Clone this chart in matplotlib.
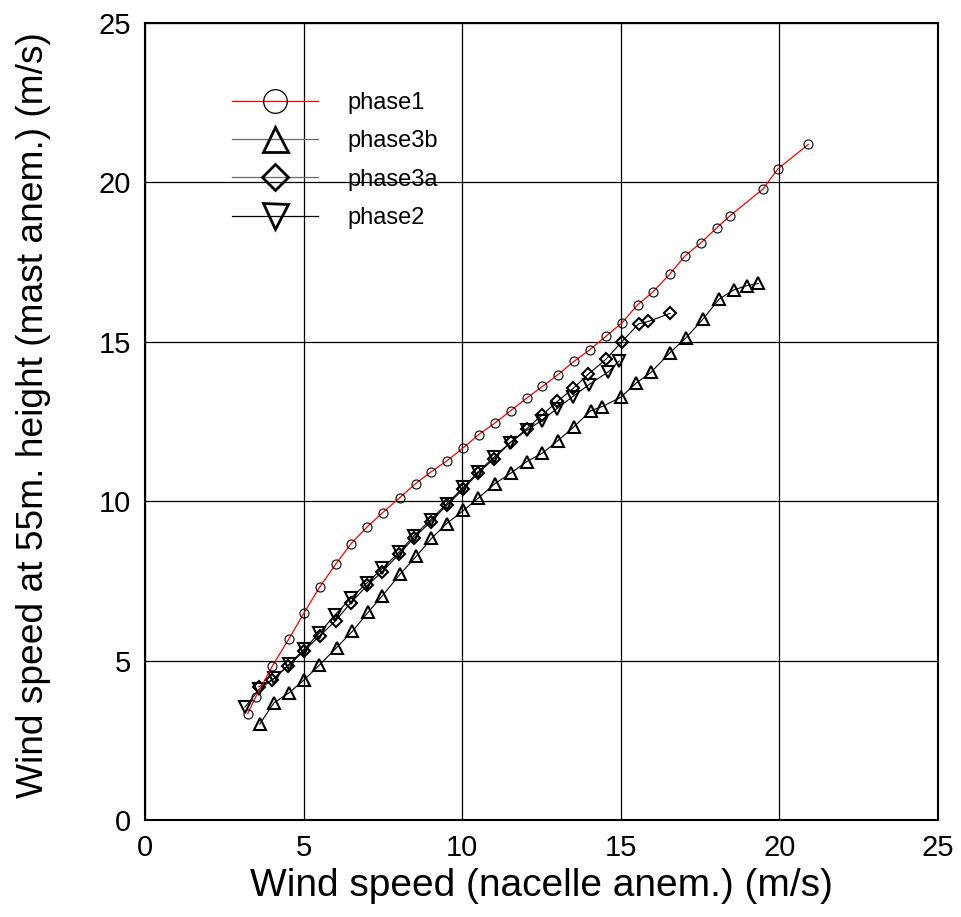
import matplotlib
matplotlib.use("Agg")
import matplotlib.pyplot as plt
from matplotlib.lines import Line2D

plt.rcParams['font.family'] = ['Liberation Sans', 'DejaVu Sans']

# phase1 (circles, red line)
p1_x = [3.24, 3.49, 4.01, 4.54, 5.01, 5.51, 6.01, 6.5, 7.01, 7.49, 8.03, 8.53, 9.03, 9.51,
        10.04, 10.52, 11.03, 11.53, 12.03, 12.53, 13.02, 13.53, 14.02, 14.53, 15.03, 15.53,
        16.02, 16.55, 17.03, 17.53, 18.02, 18.44, 19.47, 19.96, 20.91]
p1_y = [3.34, 3.86, 4.82, 5.69, 6.49, 7.31, 8.02, 8.67, 9.2, 9.64, 10.11, 10.55, 10.93, 11.26,
        11.68, 12.09, 12.45, 12.84, 13.23, 13.6, 13.97, 14.39, 14.75, 15.17, 15.59, 16.16,
        16.57, 17.13, 17.7, 18.11, 18.57, 18.95, 19.78, 20.43, 21.19]

# phase3b (up triangles)
p3b_x = [3.62, 4.06, 4.54, 5.01, 5.5, 6.04, 6.54, 7.03, 7.48, 8.04, 8.55, 9.03, 9.51, 10.04,
         10.51, 11.03, 11.53, 12.03, 12.53, 13.02, 13.53, 14.05, 14.42, 15.0, 15.48, 15.95,
         16.55, 17.05, 17.58, 18.1, 18.57, 18.97, 19.34]
p3b_y = [3.01, 3.67, 3.99, 4.39, 4.86, 5.41, 5.92, 6.51, 7.03, 7.71, 8.27, 8.83, 9.3, 9.71,
         10.1, 10.55, 10.88, 11.24, 11.51, 11.9, 12.34, 12.84, 12.97, 13.26, 13.7, 14.04,
         14.66, 15.12, 15.7, 16.34, 16.63, 16.76, 16.83]

# phase3a (diamonds)
p3a_x = [3.59, 4.01, 4.5, 5.01, 5.51, 6.01, 6.48, 7.01, 7.48, 8.01, 8.48, 9.01, 9.51, 10.04,
         10.51, 11.0, 11.53, 12.03, 12.5, 13.0, 13.5, 13.98, 14.53, 15.03, 15.56, 15.87, 16.55]
p3a_y = [4.18, 4.39, 4.82, 5.3, 5.78, 6.25, 6.81, 7.36, 7.79, 8.34, 8.85, 9.36, 9.87, 10.38,
         10.89, 11.33, 11.85, 12.27, 12.69, 13.13, 13.54, 13.99, 14.45, 15.0, 15.56, 15.64, 15.89]

# phase2 (down triangles)
p2_x = [3.15, 3.6, 4.06, 4.54, 5.01, 5.5, 5.98, 6.48, 6.99, 7.48, 8.01, 8.48, 9.01, 9.51,
        10.04, 10.51, 11.0, 11.51, 12.03, 12.5, 12.98, 13.48, 14.0, 14.61, 14.95]
p2_y = [3.54, 4.1, 4.44, 4.88, 5.35, 5.87, 6.42, 6.95, 7.43, 7.89, 8.4, 8.92, 9.42, 9.92,
        10.43, 10.93, 11.38, 11.84, 12.22, 12.53, 12.9, 13.28, 13.66, 14.06, 14.4]

labels = ["phase1", "phase3b", "phase3a", "phase2"]
ticks = [0, 5, 10, 15, 20, 25]

fig = plt.figure(figsize=(9.62, 9.17), dpi=100)
ax = fig.add_axes([145 / 962, 1 - 820 / 917, 793 / 962, 797 / 917])

ax.plot(p1_x, p1_y, color="red", lw=0.9, marker="o", ms=6.5, mfc="none", mec="black", mew=0.8, zorder=5)
ax.plot(p3b_x, p3b_y, color="black", lw=0.8, marker="^", ms=9, mfc="none", mec="black", mew=1.5, zorder=4)
ax.plot(p3a_x, p3a_y, color="black", lw=0.8, marker="D", ms=6.5, mfc="none", mec="black", mew=1.5, zorder=4)
ax.plot(p2_x, p2_y, color="black", lw=0.8, marker="v", ms=9, mfc="none", mec="black", mew=1.5, zorder=4)

ax.set_xlim(0, 25)
ax.set_ylim(0, 25)
ax.set_xticks(ticks)
ax.set_yticks(ticks)
ax.tick_params(length=0, labelsize=21, pad=10)
ax.grid(True, color="black", lw=0.9)
for s in ax.spines.values():
    s.set_linewidth(1.5)

ax.set_xlabel("Wind speed (nacelle anem.) (m/s)", fontsize=28)
ax.set_ylabel("Wind speed at 55m. height (mast anem.) (m/s)", fontsize=26.7)
ax.xaxis.set_label_coords(0.5, (820 - 868) / 797)
ax.yaxis.set_label_coords((51 - 145) / 793, 0.508)

handles = [
    Line2D([], [], color="red", lw=0.9, marker="o", ms=17, mfc="none", mec="black", mew=0.9),
    Line2D([], [], color="dimgray", lw=0.9, marker="^", ms=18, mfc="none", mec="black", mew=2),
    Line2D([], [], color="dimgray", lw=0.9, marker="D", ms=13, mfc="none", mec="black", mew=2),
    Line2D([], [], color="black", lw=0.9, marker="v", ms=18, mfc="none", mec="black", mew=2),
]
leg = ax.legend(handles, labels, loc="upper left", bbox_to_anchor=((232 - 145) / 793, (820 - 92) / 797),
                frameon=False, fontsize=17, handlelength=3.64, handletextpad=1.23, labelspacing=0.69,
                borderpad=0, borderaxespad=0)

fig.savefig("out.png", dpi=100)
